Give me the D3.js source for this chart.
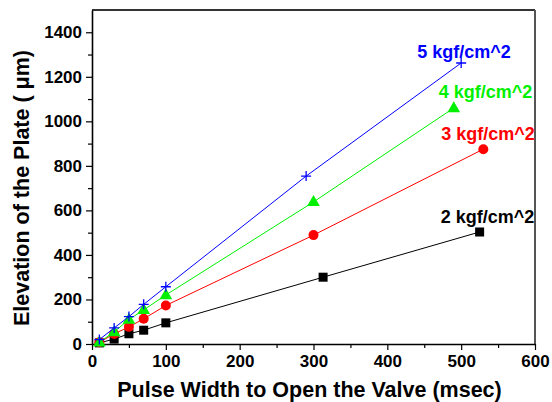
<!DOCTYPE html>
<html>
<head>
<meta charset="utf-8">
<script src="https://cdn.jsdelivr.net/npm/d3@7"></script>
<style>
  body { margin: 0; background: #fff; }
  text { font-family: Arial, "Liberation Sans", sans-serif; font-weight: bold; }
</style>
</head>
<body>
<svg width="552" height="402"></svg>
<script>
// data
var seriesNames = ["2 kgf/cm^2", "3 kgf/cm^2", "4 kgf/cm^2", "5 kgf/cm^2"];
var x2 = [10, 30, 50, 70, 100, 313, 525];
var y2 = [5, 22, 46, 62, 95, 300, 503];
var x3 = [10, 30, 50, 70, 100, 300, 530];
var y3 = [8, 45, 77, 113, 173, 489, 875];
var x4 = [10, 30, 50, 70, 100, 300, 490];
var y4 = [8, 54, 110, 153, 220, 638, 1060];
var x5 = [10, 30, 50, 70, 100, 290, 500];
var y5 = [20, 72, 123, 178, 257, 754, 1262];
var xTicks = [0, 100, 200, 300, 400, 500, 600];
var yTicks = [0, 200, 400, 600, 800, 1000, 1200, 1400];

var colors = ["#000000", "#ff0000", "#00f000", "#0000ff"];
var symbols = ["square", "circle", "triangle", "plus"];
// label offset from last point (px)
var labelOff = [[-39, -9], [-42, -9], [-15, -10], [-44, -5]];

var svg = d3.select("svg");

var x = d3.scaleLinear().domain([0, 600]).range([92, 535]);
var y = d3.scaleLinear().domain([0, 1500]).range([344, 10]);

var series = [[x2, y2], [x3, y3], [x4, y4], [x5, y5]].map(function(s, i) {
  return { name: seriesNames[i], color: colors[i], sym: symbols[i],
           pts: s[0].map(function(v, j) { return [v, s[1][j]]; }) };
});

// frame top / right
svg.append("line").attr("x1", x(0)).attr("x2", x(600)).attr("y1", y(1500)).attr("y2", y(1500))
  .attr("stroke", "#333").attr("stroke-width", 2);
svg.append("line").attr("x1", x(600)).attr("x2", x(600)).attr("y1", y(1500)).attr("y2", y(0))
  .attr("stroke", "#555").attr("stroke-width", 2);

// minor ticks
svg.append("g").attr("transform", "translate(0," + y(0) + ")")
  .call(d3.axisBottom(x).tickValues(d3.range(50, 600, 100)).tickSize(4).tickFormat(""))
  .call(function(g) { g.select(".domain").remove(); g.selectAll("line").attr("stroke-width", 1.2); });
svg.append("g").attr("transform", "translate(" + x(0) + ",0)")
  .call(d3.axisLeft(y).tickValues(d3.range(100, 1500, 200)).tickSize(4).tickFormat(""))
  .call(function(g) { g.select(".domain").remove(); g.selectAll("line").attr("stroke-width", 1.2); });

// main axes
var xAxis = svg.append("g").attr("transform", "translate(0," + y(0) + ")")
  .call(d3.axisBottom(x).tickValues(xTicks).tickFormat(d3.format("d")).tickSize(6).tickSizeOuter(0).tickPadding(5));
var yAxis = svg.append("g").attr("transform", "translate(" + x(0) + ",0)")
  .call(d3.axisLeft(y).tickValues(yTicks).tickFormat(d3.format("d")).tickSize(6).tickSizeOuter(0).tickPadding(4));
[xAxis, yAxis].forEach(function(g) {
  g.select(".domain").attr("stroke-width", 1.6);
  g.selectAll(".tick line").attr("stroke-width", 1.2);
  g.selectAll("text").attr("font-size", "17px").attr("font-family", null).attr("fill", "#000");
});

var line = d3.line().x(function(d) { return x(d[0]); }).y(function(d) { return y(d[1]); });

series.forEach(function(s, i) {
  svg.append("path").datum(s.pts).attr("d", line)
    .attr("fill", "none").attr("stroke", s.color).attr("stroke-width", 1);

  var g = svg.append("g");
  s.pts.forEach(function(p) {
    var cx = x(p[0]), cy = y(p[1]);
    if (s.sym == "square") {
      g.append("rect").attr("x", cx - 4.5).attr("y", cy - 4.5).attr("width", 9).attr("height", 9)
        .attr("fill", s.color);
    } else if (s.sym == "circle") {
      g.append("circle").attr("cx", cx).attr("cy", cy).attr("r", 5).attr("fill", s.color);
    } else if (s.sym == "triangle") {
      g.append("path").attr("d", d3.symbol(d3.symbolTriangle, 70)()).attr("transform", "translate(" + cx + "," + (cy + 0.5) + ")")
        .attr("fill", s.color);
    } else {
      g.append("path").attr("d", "M" + (cx - 5) + "," + cy + "H" + (cx + 5) + "M" + cx + "," + (cy - 5) + "V" + (cy + 5))
        .attr("stroke", s.color).attr("stroke-width", 1.3);
    }
  });

  var last = s.pts[s.pts.length - 1];
  svg.append("text").attr("x", x(last[0]) + labelOff[i][0]).attr("y", y(last[1]) + labelOff[i][1])
    .attr("font-size", "18px").attr("fill", s.color).text(s.name);
});

// axis titles
svg.append("text").attr("x", (x(0) + x(600)) / 2 - 4).attr("y", 397).attr("text-anchor", "middle")
  .attr("font-size", "21.5px").text("Pulse Width to Open the Valve (msec)");
svg.append("text").attr("transform", "translate(29,188) rotate(-90)").attr("text-anchor", "middle")
  .attr("font-size", "21.5px").text("Elevation of the Plate ( μm)");
</script>
</body>
</html>
